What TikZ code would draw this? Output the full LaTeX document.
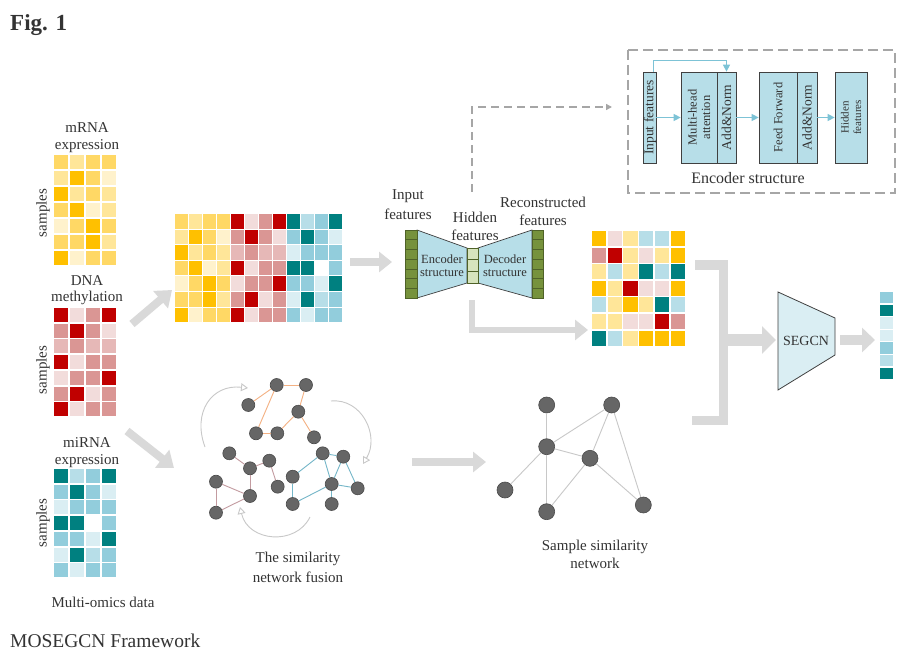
\documentclass[tikz,border=0pt]{standalone}
\usepackage{fontspec}
\setmainfont{Liberation Serif}
\usetikzlibrary{arrows.meta}
\definecolor{Y3}{HTML}{FFC000}
\definecolor{Y2}{HTML}{FFD865}
\definecolor{Y1}{HTML}{FFE699}
\definecolor{Y0}{HTML}{FFF2CC}
\definecolor{R3}{HTML}{C00000}
\definecolor{R2}{HTML}{DA9694}
\definecolor{R1}{HTML}{E6B8B7}
\definecolor{R0}{HTML}{F2DCDB}
\definecolor{T3}{HTML}{008080}
\definecolor{T2}{HTML}{92CDDC}
\definecolor{T1}{HTML}{B7DEE8}
\definecolor{T0}{HTML}{DAEEF3}
\definecolor{W}{HTML}{FFFFFF}
\definecolor{TXT}{HTML}{333333}
\definecolor{ArrG}{HTML}{D9D9D9}
\definecolor{DashG}{HTML}{A6A6A6}
\definecolor{CurvG}{HTML}{C8C8C8}
\definecolor{ArrB}{HTML}{7DC3D6}
\definecolor{EdgeD}{HTML}{404040}
\definecolor{GrnD}{HTML}{76923C}
\definecolor{GrnE}{HTML}{4F6228}
\definecolor{GrnL}{HTML}{D7E4BD}
\definecolor{NodeG}{HTML}{666666}
\definecolor{NodeD}{HTML}{4A4A4A}
\definecolor{EOr}{HTML}{F4B183}
\definecolor{ERd}{HTML}{C39BA0}
\definecolor{ETl}{HTML}{74B6C8}
\definecolor{ESm}{HTML}{C8C8C8}
\def\mrna{{Y2,Y1,Y2,Y2},{Y1,Y3,Y2,Y0},{Y3,Y1,Y2,Y1},{Y2,Y3,Y0,Y1},{Y0,Y2,Y3,Y2},{Y2,Y2,Y3,Y1},{Y3,Y0,Y2,Y2}}
\def\dna{{R3,R0,R2,R3},{R2,R3,R2,R0},{R1,R2,R1,R1},{R3,R0,R2,R2},{R0,R2,R2,R3},{R2,R3,R0,R2},{R3,R0,R2,R2}}
\def\mirna{{T3,T1,T2,T3},{T2,T3,T2,T0},{T0,T2,T2,T2},{T3,T3,W,T2},{T2,T2,T0,T3},{T0,T3,T1,T2},{T2,T0,T2,T2}}
\def\recon{{Y3,R0,Y1,T1,T1,Y3},{R2,R3,Y1,R0,Y1,Y3},{Y1,T1,Y1,T3,T1,T3},{Y3,Y1,R3,R0,R0,Y3},{T1,Y1,Y3,Y1,T3,T1},{Y1,Y1,R0,R0,R3,R2},{T3,T1,Y1,Y3,Y3,Y3}}
\def\outc{{T2},{T3},{T0},{T0},{T2},{T1},{T3}}
\newcommand{\cellgrid}[7]{%
  \foreach \rowl [count=\ri] in #1 {%
    \foreach \cc [count=\ci] in \rowl {%
      \fill[fill=\cc] ({#2+#4*(\ci-1)},{#3+#5*(\ri-1)}) rectangle ++(#6,#7);
    }%
  }%
}
\begin{document}
\begin{tikzpicture}[x=1pt,y=-1pt,
  lbl/.style={font=\fontsize{15}{17}\selectfont, text=TXT, inner sep=0pt},
  slbl/.style={font=\fontsize{12.5}{14}\selectfont, text=TXT, inner sep=0pt},
  blbl/.style={font=\fontsize{11}{12.5}\selectfont, text=TXT, inner sep=0pt, rotate=90, align=center},
  bigarrow/.style={draw=ArrG, line width=8pt, -{Triangle[length=13pt,width=20pt]}},
  eblk/.style={draw=EdgeD, fill=T1, line width=0.7pt, inner sep=0pt, minimum height=91pt},
  earrow/.style={draw=ArrB, line width=1.2pt, -{Triangle[length=7pt,width=7pt]}},
  gnode/.style={circle, fill=NodeG, draw=NodeD, line width=0.6pt, minimum size=13pt, inner sep=0pt},
  snode/.style={circle, fill=NodeG, draw=NodeD, line width=0.6pt, minimum size=16pt, inner sep=0pt},
  curv/.style={draw=CurvG, line width=0.9pt, -{Triangle[open, length=7pt, width=8pt]}}]
\useasboundingbox (0,0) rectangle (906,650);
\fill[white] (0,0) rectangle (906,650);

% title and caption
\node[anchor=base west, inner sep=0pt, font=\fontsize{23}{26}\selectfont\bfseries, text=TXT] (fig) at (10,31) {Fig. 1};
\node[anchor=base west, inner sep=0pt, font=\fontsize{19.5}{22}\selectfont, text=TXT] (cap) at (10,647) {MOSEGCN Framework};

% left matrices
\cellgrid{\mrna}{54}{155}{16}{16}{14}{14.3}
\cellgrid{\dna}{54}{308}{16}{15.7}{14}{14}
\cellgrid{\mirna}{54}{469}{16}{15.7}{14}{14}
\node[lbl] (l1a) at (87,128) {mRNA};
\node[lbl] (l1b) at (87,146) {expression};
\node[lbl] (l2a) at (87,281) {DNA};
\node[lbl] (l2b) at (87,298) {methylation};
\node[lbl] (l3a) at (87,443) {miRNA};
\node[lbl] (l3b) at (87,461) {expression};
\node[lbl, rotate=90] (s1) at (43,213) {samples};
\node[lbl, rotate=90] (s2) at (43,370) {samples};
\node[lbl, rotate=90] (s3) at (43,523) {samples};
\node[lbl] (mod) at (103,602) {Multi-omics data};

% concatenated matrix
\cellgrid{\mrna}{175}{214}{14}{15.6}{13}{14.6}
\cellgrid{\dna}{231}{214}{14}{15.6}{13}{14.6}
\cellgrid{\mirna}{287}{214}{14}{15.6}{13}{14.6}

% big arrows
\coordinate (a1s) at (132,324); \coordinate (a1e) at (172,290);
\draw[bigarrow, -{Triangle[length=15pt,width=22pt]}] (a1s) -- (a1e);
\coordinate (a2s) at (127,431); \coordinate (a2e) at (174,468);
\draw[bigarrow, -{Triangle[length=15pt,width=22pt]}] (a2s) -- (a2e);
\coordinate (a3s) at (350,262); \coordinate (a3e) at (392,262);
\draw[bigarrow] (a3s) -- (a3e);
\coordinate (a4s) at (412,462); \coordinate (a4e) at (486,462);
\draw[bigarrow] (a4s) -- (a4e);
\coordinate (a5s) at (472,300); \coordinate (a5e) at (588,330);
\draw[bigarrow, line width=6.5pt] (a5s) |- (a5e);
\coordinate (b1) at (695,265); \coordinate (b2) at (723,265); \coordinate (b3) at (723,420); \coordinate (b4) at (692,420);
\draw[draw=ArrG, line width=9pt, line join=miter] (b1) -- (b2) -- (b3) -- (b4);
\coordinate (a6s) at (723,340); \coordinate (a6e) at (776,340);
\draw[bigarrow, line width=12pt, -{Triangle[length=14pt,width=27pt]}] (a6s) -- (a6e);
\coordinate (a7s) at (840,340); \coordinate (a7e) at (875,340);
\draw[bigarrow, line width=10pt, -{Triangle[length=13pt,width=24pt]}] (a7s) -- (a7e);

% autoencoder
\draw[draw=EdgeD, fill=T1, line width=0.7pt] (417,230) -- (467,248) -- (467,283) -- (417,298) -- cycle;
\draw[draw=EdgeD, fill=T1, line width=0.7pt] (478,248) -- (532,230) -- (532,298) -- (478,283) -- cycle;
\draw[draw=GrnE, fill=GrnD, line width=0.6pt] (405,230) rectangle (417,298);
\foreach \k in {1,...,6} \draw[GrnE, line width=0.6pt] (405,{230+\k*68/7}) -- (417,{230+\k*68/7});
\draw[draw=GrnE, fill=GrnD, line width=0.6pt] (532,230) rectangle (543,298);
\foreach \k in {1,...,6} \draw[GrnE, line width=0.6pt] (532,{230+\k*68/7}) -- (543,{230+\k*68/7});
\draw[draw=GrnE, fill=GrnL, line width=0.6pt] (467,248) rectangle (478,283);
\foreach \k in {1,2} \draw[GrnE, line width=0.6pt] (467,{248+\k*35/3}) -- (478,{248+\k*35/3});
\node[slbl] (enc1) at (442,259) {Encoder};
\node[slbl] (enc2) at (442,273) {structure};
\node[slbl] (dec1) at (505,259) {Decoder};
\node[slbl] (dec2) at (505,273) {structure};
\node[lbl] (in1) at (408,196) {Input};
\node[lbl] (in2) at (408,214) {features};
\node[lbl] (hd1) at (475,217) {Hidden};
\node[lbl] (hd2) at (475,235) {features};
\node[lbl] (rc1) at (543,202) {Reconstructed};
\node[lbl] (rc2) at (543,220) {features};

% dashed link to encoder structure
\coordinate (dstart) at (472,192); \coordinate (dend) at (612,107);
\draw[draw=DashG, line width=1.3pt, dash pattern=on 8pt off 5pt, -{Triangle[length=6pt,width=6pt]}] (dstart) |- (dend);

% encoder structure box
\draw[draw=DashG, line width=1.6pt, dash pattern=on 10pt off 5pt] (628,50) rectangle (895,193);
\node[eblk, minimum width=13pt] (inp) at (649.5,117.5) {};
\node[eblk, minimum width=36pt] (mha) at (699,117.5) {};
\node[eblk, minimum width=19pt] (an1) at (726.5,117.5) {};
\node[eblk, minimum width=38pt] (ff) at (778,117.5) {};
\node[eblk, minimum width=20pt] (an2) at (807,117.5) {};
\node[eblk, minimum width=32pt] (hid) at (851,117.5) {};
\node[blbl, font=\fontsize{13.5}{14}\selectfont] (inpt) at ([xshift=0.5pt]inp.center) {Input features};
\node[blbl, font=\fontsize{12.5}{13.5}\selectfont] (mhat) at (mha) {Multi-head\\attention};
\node[blbl, font=\fontsize{13.5}{14}\selectfont] (an1t) at (an1) {Add\&Norm};
\node[blbl, font=\fontsize{12.5}{14}\selectfont] (fft) at (ff) {Feed Forward};
\node[blbl, font=\fontsize{13.5}{14}\selectfont] (an2t) at (an2) {Add\&Norm};
\node[blbl, font=\fontsize{11}{12.5}\selectfont] (hidt) at (hid) {Hidden\\features};
\draw[earrow] (inp.east) -- (mha.west);
\draw[earrow] (an1.east) -- (ff.west);
\draw[earrow] (an2.east) -- (hid.west);
\draw[earrow, line width=1pt] ([xshift=-3pt]inp.north east) -- ++(0,-11) -| (an1.north);
\node[font=\fontsize{16}{18}\selectfont, text=TXT, inner sep=0pt] (enclbl) at (748,178) {Encoder structure};

% reconstructed matrix
\cellgrid{\recon}{592}{231}{15.7}{16.6}{14.2}{15}

% SEGCN
\draw[draw=EdgeD, fill=T0, line width=0.8pt] (778,292) -- (835,318) -- (835,355) -- (778,390) -- cycle;
\node[font=\fontsize{14}{16}\selectfont, text=TXT, inner sep=0pt] (seg) at (806,341) {SEGCN};

% output column
\cellgrid{\outc}{880}{292}{0}{12.6}{13}{11.4}

% similarity network fusion
\node[gnode] (o1) at (276.7,385) {};
\node[gnode] (o2) at (306,385) {};
\node[gnode] (o3) at (248.3,405) {};
\node[gnode] (o4) at (298.3,411.7) {};
\node[gnode] (o5) at (256,433.3) {};
\node[gnode] (o6) at (277.3,433.3) {};
\node[gnode] (o7) at (314,437.3) {};
\foreach \u/\v in {o3/o1,o1/o2,o1/o5,o2/o4,o4/o6,o5/o6,o4/o7} \draw[EOr, line width=0.9pt] (\u) -- (\v);
\node[gnode] (r1) at (229.3,453.3) {};
\node[gnode] (r2) at (250,468.3) {};
\node[gnode] (r3) at (269.3,460.7) {};
\node[gnode] (r4) at (216,481.7) {};
\node[gnode] (r5) at (277.7,486.7) {};
\node[gnode] (r6) at (250,496) {};
\node[gnode] (r7) at (216,512.7) {};
\foreach \u/\v in {r1/r2,r2/r3,r3/r5,r2/r6,r4/r6,r4/r7,r6/r7} \draw[ERd, line width=0.9pt] (\u) -- (\v);
\node[gnode] (t1) at (322.7,453.3) {};
\node[gnode] (t2) at (343.3,456.7) {};
\node[gnode] (t3) at (292.7,476.7) {};
\node[gnode] (t4) at (331.7,484) {};
\node[gnode] (t5) at (357.7,488.3) {};
\node[gnode] (t6) at (292.7,504) {};
\node[gnode] (t7) at (331.7,504) {};
\foreach \u/\v in {t1/t2,t1/t3,t1/t4,t2/t4,t2/t5,t4/t5,t4/t6,t4/t7,t3/t6} \draw[ETl, line width=0.9pt] (\u) -- (\v);
\coordinate (c1s) at (205,447); \coordinate (c1e) at (248,388);
\draw[curv] (c1s) .. controls (192,412) and (212,384) .. (c1e);
\coordinate (c2s) at (331,401); \coordinate (c2e) at (363,464);
\draw[curv] (c2s) .. controls (362,398) and (380,436) .. (c2e);
\coordinate (c3s) at (310,517); \coordinate (c3e) at (240,507);
\draw[curv] (c3s) .. controls (296,546) and (248,542) .. (c3e);
\node[lbl] (snf1) at (298,559) {The similarity};
\node[lbl] (snf2) at (298,577) {network fusion};

% sample similarity network
\node[snode] (n1) at (546.7,405) {};
\node[snode] (n2) at (611.7,405) {};
\node[snode] (n3) at (546.7,446.7) {};
\node[snode] (n4) at (590,458.3) {};
\node[snode] (n5) at (505,490) {};
\node[snode] (n6) at (546.7,511.7) {};
\node[snode] (n7) at (643.3,505) {};
\foreach \u/\v in {n1/n3,n3/n2,n3/n4,n3/n5,n3/n6,n4/n2,n4/n6,n4/n7,n2/n7} \draw[ESm, line width=0.9pt] (\u) -- (\v);
\node[lbl] (ssn1) at (595,547) {Sample similarity};
\node[lbl] (ssn2) at (595,563) {network};
\end{tikzpicture}
\end{document}
